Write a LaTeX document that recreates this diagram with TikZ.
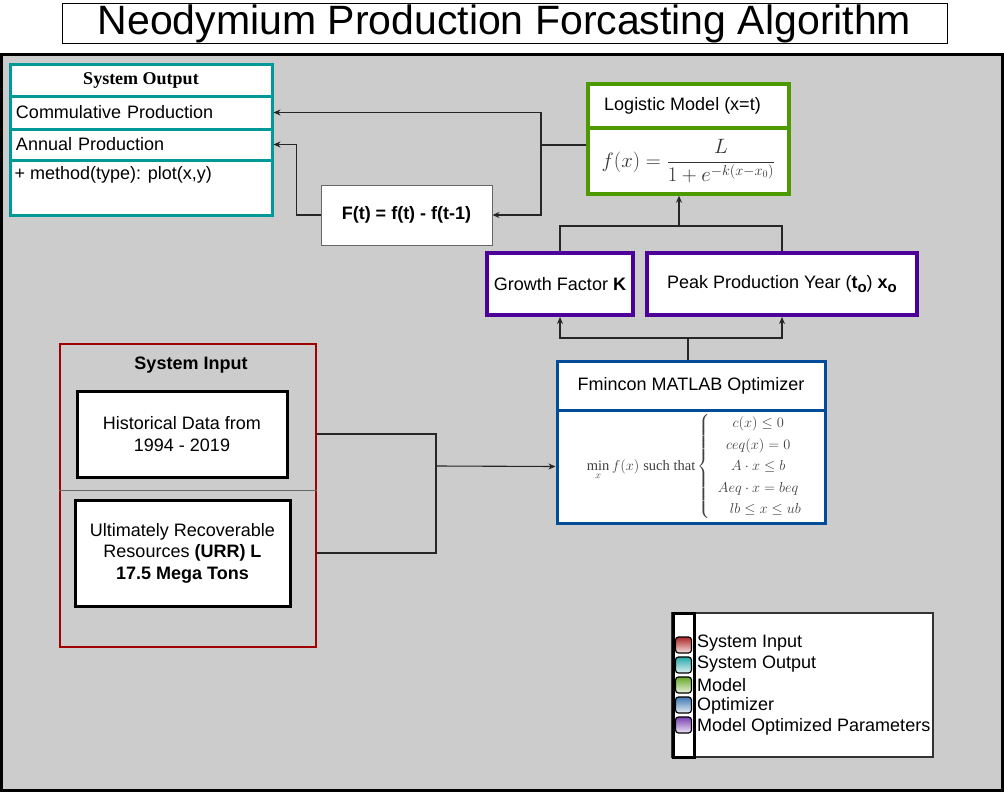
\documentclass[tikz,border=0pt]{standalone}
\usepackage{amsmath}
\usepackage{fontspec}
\setmainfont{Liberation Sans}
\newfontfamily\headserif{Liberation Serif}
\usetikzlibrary{arrows.meta}

\definecolor{bggray}{HTML}{CCCCCC}
\definecolor{outteal}{HTML}{009999}
\definecolor{modgreen}{HTML}{4D9900}
\definecolor{optblue}{HTML}{004C99}
\definecolor{parpurple}{HTML}{4C0099}
\definecolor{inred}{HTML}{A00000}

\newcommand{\bsub}[1]{\raisebox{-4pt}{\fontsize{15}{15}\selectfont\textbf{#1}}}

\begin{document}
\begin{tikzpicture}[x=1pt,y=-1pt,
    every node/.style={font=\fontsize{18}{21.5}\selectfont},
    wbox/.style={draw, fill=white, rectangle, inner sep=0pt, align=center},
    rowbox/.style={wbox, draw=outteal, line width=3pt, minimum width=262, text width=250, align=left},
    swatch/.style={rectangle, rounded corners=3pt, draw=black, line width=1.2pt, minimum size=16, inner sep=0pt},
    legtext/.style={anchor=west, inner sep=0pt},
    wire/.style={line width=1.1pt, black!85},
    arr/.style={wire, -{Stealth[length=7pt,width=6pt]}}]

    \useasboundingbox (0,0) rectangle (1004,792);

    \node[wbox, line width=1pt, minimum width=885, minimum height=40, font=\fontsize{41}{44}\selectfont] (title) at (504.5,24) {Neodymium Production Forcasting Algorithm};

    \draw[line width=3pt, fill=bggray] (1.5,54.5) rectangle (1002.5,790.5);

    \node[wbox, draw=outteal, line width=3pt, minimum width=262, minimum height=31, font=\headserif\bfseries\fontsize{18}{21}\selectfont] (sohead) at (141,80.5) {System Output};
    \node[rowbox, minimum height=33] (socum) at (141,112.5) {Commulative Production};
    \node[rowbox, minimum height=31] (soann) at (141,144.5) {Annual Production};
    \node[rowbox, minimum height=55, label={[anchor=north west, inner sep=0pt, xshift=6pt, yshift=-8pt]north west:+ method(type): plot(x,y)}] (someth) at (141,187.5) {};

    \node[wbox, draw=modgreen, line width=3.5pt, minimum width=201, minimum height=44] (lmhead) at (688.5,106) {Logistic Model (x=t)\hspace*{12pt}};
    \node[wbox, draw=modgreen, line width=3.5pt, minimum width=201, minimum height=66, text=black!80, font=\fontsize{20.5}{24}\selectfont] (lmf) at (688.5,161) {$\displaystyle f(x)=\frac{L}{1+e^{-k(x-x_0)}}$};

    \node[wbox, draw=black!60, line width=1pt, minimum width=171, minimum height=60, font=\bfseries\fontsize{18}{21}\selectfont] (ft) at (406.5,215) {F(t) = f(t) - f(t-1)};

    \node[wbox, draw=parpurple, line width=4pt, minimum width=146, minimum height=62] (gf) at (560,284) {Growth Factor \textbf{K}};
    \node[wbox, draw=parpurple, line width=4pt, minimum width=270, minimum height=62] (pk) at (782,284) {Peak Production Year (\textbf{t}\bsub{o}) \textbf{x}\bsub{o}};

    \node[wbox, draw=optblue, line width=3pt, minimum width=268, minimum height=49] (fmhead) at (691,385.5) {Fmincon MATLAB Optimizer};
    \node[wbox, draw=optblue, line width=3pt, minimum width=268, minimum height=113, text=black!75, font=\fontsize{14.5}{21.5}\selectfont] (fmb) at (691,466.5) {\hspace*{12pt}$\mathop{\text{\headserif min}}\limits_x f(x)\ \text{\headserif such that}\left\{\begin{array}{c} c(x)\le 0\\ ceq(x)=0\\ A\cdot x\le b\\ Aeq\cdot x=beq\\ \quad lb\le x\le ub\end{array}\right.$};

    \node[draw=inred, line width=1.5pt, minimum width=256, minimum height=303, inner sep=0pt] (si) at (188,495.5) {};
    \node[font=\bfseries\fontsize{18}{21}\selectfont] (sititle) at (191,365) {System Input};
    \coordinate (sidiv) at (188,490);
    \draw[black!60, line width=1pt] (si.west |- sidiv) -- (si.east |- sidiv);
    \node[wbox, line width=3pt, minimum width=210, minimum height=86] (hd) at (182,434) {Historical Data from\\1994 - 2019};
    \node[wbox, line width=3pt, minimum width=215, minimum height=106] (urr) at (182.5,553) {Ultimately Recoverable\\Resources \textbf{(URR) L}\\\textbf{17.5 Mega Tons}};

    \node[wbox, draw=black!80, line width=1.5pt, minimum width=261, minimum height=144] (lg) at (802.5,685) {};
    \node[wbox, line width=3pt, minimum width=21, minimum height=144] (lgs) at (683.5,685) {};
    \node[swatch, top color=inred!85, bottom color=inred!12] (sw1) at (683.5,645) {};
    \node[swatch, top color=outteal!85, bottom color=outteal!12] (sw2) at (683.5,665) {};
    \node[swatch, top color=modgreen!85, bottom color=modgreen!12] (sw3) at (683.5,685) {};
    \node[swatch, top color=optblue!75, bottom color=optblue!10] (sw4) at (683.5,705) {};
    \node[swatch, top color=parpurple!75, bottom color=parpurple!10] (sw5) at (683.5,725) {};
    \node[legtext] (lt1) at (697,643) {System Input};
    \node[legtext] (lt2) at (697,664) {System Output};
    \node[legtext] (lt3) at (697,685) {Model};
    \node[legtext] (lt4) at (697,706) {Optimizer};
    \node[legtext] (lt5) at (697,727) {Model Optimized Parameters};

    \coordinate (jl) at (541,145);
    \draw[wire] (jl -| lmf.west) -- (jl);
    \draw[arr] (jl) |- (socum.east);
    \draw[arr] (jl) |- (ft.east);
    \draw[arr] (ft.west) -- ++(-24,0) |- (soann.east);

    \coordinate (jm) at (679,226);
    \draw[wire] (gf.north) |- (jm) -| (pk.north);
    \draw[arr] (jm) -- (jm |- lmf.south);

    \coordinate (jf) at (688,338);
    \draw[wire] (jf |- fmhead.north) -- (jf);
    \draw[arr] (jf) -| (gf.south);
    \draw[arr] (jf) -| (pk.south);

    \coordinate (jin) at (436,466);
    \draw[wire] (si.east |- hd.east) -| (jin);
    \draw[wire] (si.east |- urr.east) -| (jin);
    \draw[arr] (jin) -- (fmb.west);

\end{tikzpicture}
\end{document}
